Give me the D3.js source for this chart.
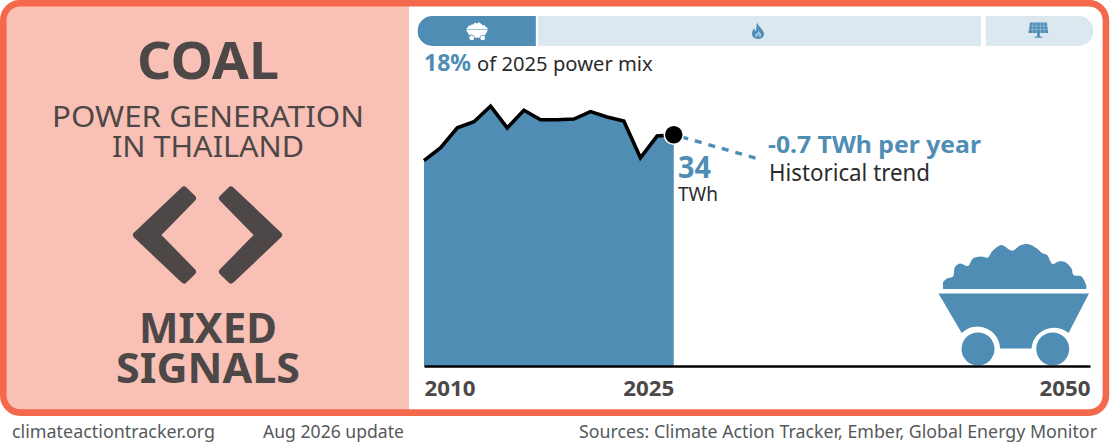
<!DOCTYPE html>
<html>
<head>
<meta charset="utf-8">
<script src="https://cdn.jsdelivr.net/npm/d3@7"></script>
<style>
  html, body { margin: 0; padding: 0; background: #fff; }
  svg { display: block; }
  text { font-family: "Noto Sans", "Open Sans", sans-serif; }
</style>
</head>
<body>
<div id="chart"></div>
<script>
// Coal generation, TWh
const years = [2010, 2011, 2012, 2013, 2014, 2015, 2016, 2017, 2018, 2019, 2020, 2021, 2022, 2023, 2024, 2025];
const generation = [30.2, 32.1, 35.0, 35.9, 38.2, 35.0, 37.6, 36.2, 36.2, 36.3, 37.4, 36.6, 36.0, 30.6, 33.8, 34.0];
const trendYears = [2025, 2030];
const trendValues = [34.0, 30.5];
const axisYears = [2010, 2025, 2050];

// 2025 power mix, %
const mixNames = ["coal", "gas", "renewables"];
const mixShares = [17.8, 66.25, 15.95];

const blue = "#4f8db5", pale = "#dce8f0", orange = "#f4694b", salmon = "#f9c1b5";
const dark = "#4d4847", ink = "#2b2b2b", grey = "#55595c";

const svg = d3.select("#chart").append("svg")
    .attr("width", 1110)
    .attr("height", 444);

const x = d3.scaleLinear().domain([2010, 2050]).range([424, 1090]);
const y = d3.scaleLinear().domain([0, 34]).range([366, 134.7]);
const mixX = d3.scaleLinear().domain([0, 100]).range([417.5, 1093.5]);

// frame and left panel
svg.append("clipPath").attr("id", "frame-clip")
    .append("rect").attr("x", 3.3).attr("y", 3.2).attr("width", 1102.6).attr("height", 409.4).attr("rx", 17);
svg.append("rect")
    .attr("x", 0).attr("y", 0).attr("width", 409).attr("height", 416)
    .attr("fill", salmon)
    .attr("clip-path", "url(#frame-clip)");
svg.append("rect")
    .attr("x", 3.3).attr("y", 3.2).attr("width", 1102.6).attr("height", 409.4).attr("rx", 17)
    .attr("fill", "none").attr("stroke", orange).attr("stroke-width", 6.6);

function label(txt, px, py, size, weight, fill, len, anchor) {
    const t = svg.append("text")
        .attr("x", px).attr("y", py)
        .attr("font-size", size)
        .attr("font-weight", weight)
        .attr("fill", fill)
        .attr("text-anchor", anchor || "start")
        .text(txt);
    if (len) t.attr("textLength", len).attr("lengthAdjust", "spacingAndGlyphs");
    return t;
}

// left panel text
label("COAL", 208, 79, 52, 700, dark, 142, "middle");
label("POWER GENERATION", 208, 127, 29.5, 400, dark, 312, "middle");
label("IN THAILAND", 208, 157, 29.5, 400, dark, 192, "middle");
label("MIXED", 208, 343, 41, 700, dark, 138, "middle");
label("SIGNALS", 208, 383, 41, 700, dark, 184, "middle");

// mixed signals chevrons
const chevrons = [
    [[184, 190], [192.5, 198.3], [156.5, 235], [192.5, 271.7], [184, 280], [136.5, 235]],
    [[231, 190], [222.5, 198.3], [258.5, 235], [222.5, 271.7], [231, 280], [278.5, 235]]
];
svg.selectAll(".chevron")
    .data(chevrons)
    .join("polygon")
    .attr("class", "chevron")
    .attr("points", d => d.join(" "))
    .attr("fill", dark)
    .attr("stroke", dark)
    .attr("stroke-width", 7)
    .attr("stroke-linejoin", "round");

// power mix bar
svg.append("clipPath").attr("id", "mix-clip")
    .append("rect").attr("x", mixX(0)).attr("y", 16).attr("width", mixX(100) - mixX(0)).attr("height", 30).attr("rx", 15);
const mixGaps = { coal: 2, gas: 4.7, renewables: 0 };
let running = 0;
const mixBars = mixShares.map((v, i) => {
    const seg = { name: mixNames[i], start: running, end: running + v };
    running += v;
    return seg;
});
svg.append("g").attr("clip-path", "url(#mix-clip)")
    .selectAll("rect")
    .data(mixBars)
    .join("rect")
    .attr("x", d => mixX(d.start))
    .attr("y", 16)
    .attr("width", d => mixX(d.end) - mixX(d.start) - mixGaps[d.name])
    .attr("height", 30)
    .attr("fill", d => d.name === "coal" ? blue : pale);

// coal wagon, drawn at full size and reused small in the mix bar
function wagon(g, fill) {
    const heap = [[943, 282], [947, 278.5], [953, 276.5], [955, 267], [960, 263.5], [968, 266], [973, 258.5],
        [981, 256.5], [988, 257.5], [992, 251.5], [1001.5, 245], [1010, 250], [1013.5, 250.5], [1020, 245.5], [1028, 244],
        [1037, 248.5], [1042, 253], [1047, 255], [1052.5, 264], [1058.5, 261.5], [1065, 262], [1071.5, 268.5], [1073.5, 275],
        [1081.5, 276.5], [1086.5, 286]];
    const top = d3.line().curve(d3.curveCatmullRom.alpha(0.5))(heap);
    g.append("path")
        .attr("d", top + "L1086 289H943Z")
        .attr("fill", fill);
    g.append("path")
        .attr("d", "M938.5 293.5H1089L1068.5 333A22.5 22.5 0 0 0 1031.5 348.5H1000A22.5 22.5 0 0 0 961.7 333Z")
        .attr("fill", fill);
    g.selectAll("circle")
        .data([978, 1052.7])
        .join("circle")
        .attr("cx", d => d)
        .attr("cy", 349)
        .attr("r", 16.5)
        .attr("fill", fill);
}
wagon(svg.append("g"), blue);
wagon(svg.append("g").attr("transform", "translate(477,31.5) scale(0.146) translate(-1014,-305)"), "#fff");

// gas flame
svg.append("path")
    .attr("d", "M757.4 22.4C758.2 27 764 29.5 764 34C764 37 761.2 39 758 39C754.6 39 752 37 752 33.6C752 31.4 753 29.8 754.2 28.2C754.6 29.6 755.2 30.6 756 31C756.6 28 756 25 757.4 22.4Z")
    .attr("fill", blue);
svg.append("path")
    .attr("d", "M758.6 30.5C759.2 32.5 761.4 33.6 761.2 35.2C761 36.6 760 37.4 759 37.6C759.6 36 759 34.8 758.2 34C758 35.2 757 36 756.8 37.6C755.4 36.8 755 35.6 755.4 34.4C756.6 33.8 758.2 32.4 758.6 30.5Z")
    .attr("fill", "#a9c8dc");

// solar panel
svg.append("path").attr("d", "M1030 22.5H1046.8L1048.2 33H1028.4Z").attr("fill", blue);
svg.append("path").attr("d", "M1037.2 33H1039.8V36.4H1042.2V37.8H1034.8V36.4H1037.2Z").attr("fill", blue);
svg.append("path")
    .attr("d", "M1029.6 26H1047.3M1029.1 29.5H1047.8M1033.2 22.5L1032.4 33M1036.4 22.5L1036.1 33M1040.3 22.5L1040.6 33M1043.6 22.5L1044.4 33")
    .attr("stroke", "#a9c8dc").attr("stroke-width", 0.6).attr("fill", "none");

// share label
const shareLabel = svg.append("text").attr("x", 424).attr("y", 71);
shareLabel.append("tspan").attr("font-size", 23).attr("font-weight", 700).attr("fill", blue).text("18%");
shareLabel.append("tspan").attr("dx", 6).attr("font-size", 20.2).attr("fill", ink).text("of 2025 power mix");

// history area and line
const rows = years.map((yr, i) => ({ yr, v: generation[i] }));
svg.append("path")
    .datum(rows)
    .attr("fill", blue)
    .attr("d", d3.area().x(d => x(d.yr)).y0(y(0)).y1(d => y(d.v)));
svg.append("path")
    .datum(rows)
    .attr("fill", "none")
    .attr("stroke", "#000")
    .attr("stroke-width", 3.6)
    .attr("d", d3.line().x(d => x(d.yr)).y(d => y(d.v)));

// trend
svg.append("path")
    .datum(trendYears.map((yr, i) => ({ yr, v: trendValues[i] })))
    .attr("fill", "none")
    .attr("stroke", blue)
    .attr("stroke-width", 3.4)
    .attr("stroke-dasharray", "7 7")
    .attr("stroke-dashoffset", -8)
    .attr("d", d3.line().x(d => x(d.yr)).y(d => y(d.v)));
svg.append("circle")
    .attr("cx", x(2025)).attr("cy", y(34))
    .attr("r", 9.5)
    .attr("fill", "#000")
    .attr("stroke", "#fff")
    .attr("stroke-width", 1.5);

label("34", 678, 178, 31, 700, blue, 33);
label("TWh", 678, 201, 19.5, 400, ink, 40);
label("-0.7 TWh per year", 768, 153, 24, 700, blue, 213);
label("Historical trend", 769, 181, 23, 400, ink, 161);

// axis
const axis = svg.append("g")
    .attr("transform", `translate(0,${y(0)})`)
    .call(d3.axisBottom(x).tickValues(axisYears).tickFormat(d3.format("d")).tickSize(0).tickPadding(15));
axis.select(".domain").attr("stroke", "#000").attr("stroke-width", 2.4);
axis.selectAll("text")
    .attr("font-family", null)
    .attr("font-size", 20.5)
    .attr("font-weight", 700)
    .attr("fill", dark)
    .attr("textLength", 51)
    .attr("lengthAdjust", "spacingAndGlyphs")
    .attr("text-anchor", d => d === axisYears[0] ? "start" : "end");

// footer
label("climateactiontracker.org", 12, 438, 18, 400, grey, 203);
label("Aug 2026 update", 263, 438, 18, 400, grey, 141);
label("Sources: Climate Action Tracker, Ember, Global Energy Monitor", 579, 438, 18, 400, grey, 518);
</script>
</body>
</html>
